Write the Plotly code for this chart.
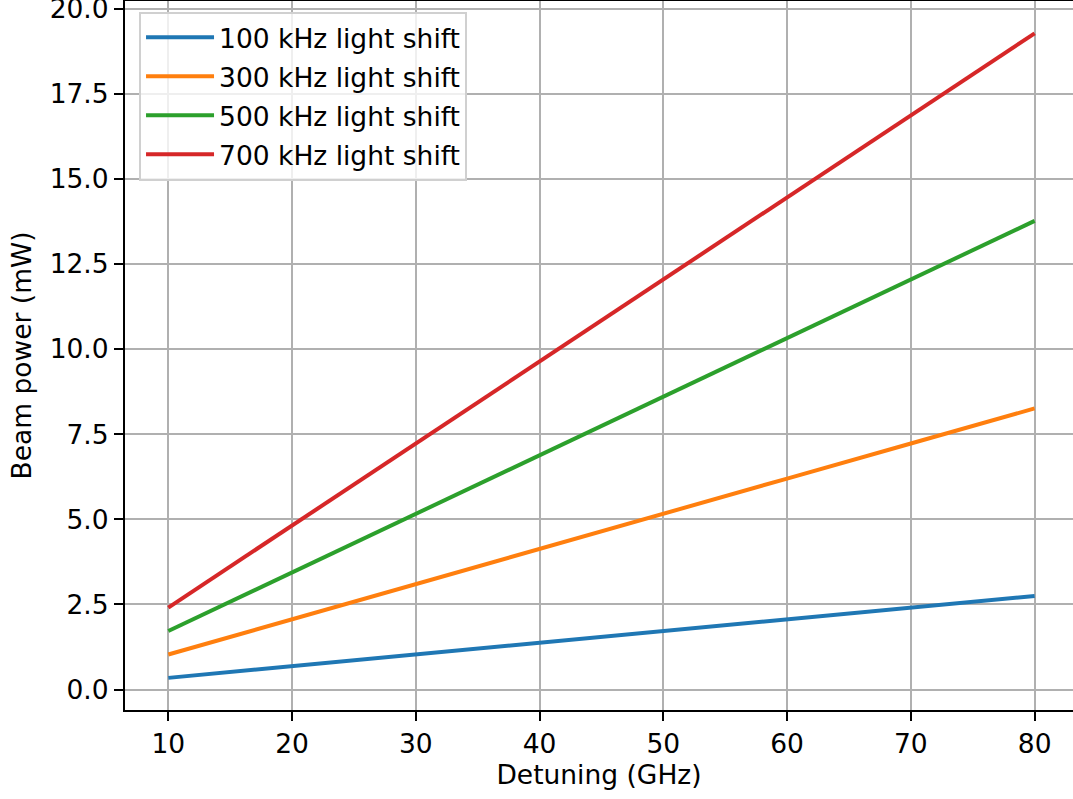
import plotly.graph_objects as go

# Detuning from resonance (GHz)
detuning = [10, 20, 30, 40, 50, 60, 70, 80]

# Required beam power (mW) for each target light shift
power_100khz = [0.344, 0.688, 1.03, 1.38, 1.72, 2.06, 2.41, 2.75]
power_300khz = [1.03, 2.07, 3.10, 4.13, 5.16, 6.20, 7.23, 8.26]
power_500khz = [1.72, 3.44, 5.16, 6.89, 8.61, 10.33, 12.05, 13.77]
power_700khz = [2.41, 4.82, 7.23, 9.64, 12.05, 14.46, 16.87, 19.28]

series_names = ["100 kHz light shift", "300 kHz light shift",
                "500 kHz light shift", "700 kHz light shift"]
series_values = [power_100khz, power_300khz, power_500khz, power_700khz]
colors = ["#1f77b4", "#ff7f0e", "#2ca02c", "#d62728"]

FONT = "DejaVu Sans"
FS = 26.5

fig = go.Figure()
for i, (name, vals, col) in enumerate(zip(series_names, series_values, colors)):
    fig.add_trace(go.Scatter(
        x=detuning, y=vals, mode="lines", name=name,
        line=dict(color=col, width=4),
        legendgroup=f"g{i}",
    ))

fig.update_layout(
    width=1073, height=799,
    margin=dict(l=125, r=0, t=1, b=89, autoexpand=False),
    plot_bgcolor="white", paper_bgcolor="white",
    font=dict(family=FONT, size=FS, color="black"),
    showlegend=True,
    legend=dict(
        x=0.0148, y=0.985, xanchor="left", yanchor="top",
        bgcolor="rgba(255,255,255,0.8)", bordercolor="#d0d0d0", borderwidth=2,
        font=dict(family=FONT, size=FS, color="black"),
        itemwidth=68, tracegroupgap=1.5,
    ),
    xaxis=dict(
        range=[6.5, 83.1], automargin=False,
        tickmode="array", tickvals=[10, 20, 30, 40, 50, 60, 70, 80],
        showgrid=True, gridcolor="#b0b0b0", gridwidth=2.1,
        showline=True, linecolor="black", linewidth=2.1, mirror=True,
        ticks="outside", ticklen=9, tickwidth=2.1, tickcolor="black",
        zeroline=False,
        title=dict(text="Detuning (GHz)", font=dict(size=FS), standoff=8),
        tickfont=dict(size=FS),
    ),
    yaxis=dict(
        range=[-0.60, 20.23], automargin=False,
        tickmode="array", tickvals=[0, 2.5, 5, 7.5, 10, 12.5, 15, 17.5, 20],
        tickformat=".1f", ticklabeloverflow="allow",
        showgrid=True, gridcolor="#b0b0b0", gridwidth=2.1,
        showline=True, linecolor="black", linewidth=2.1, mirror=False,
        ticks="outside", ticklen=9, tickwidth=2.1, tickcolor="black",
        zeroline=False,
        title=dict(text="Beam power (mW)", font=dict(size=FS), standoff=10),
        tickfont=dict(size=FS),
    ),
)

fig.write_html("out.html")
